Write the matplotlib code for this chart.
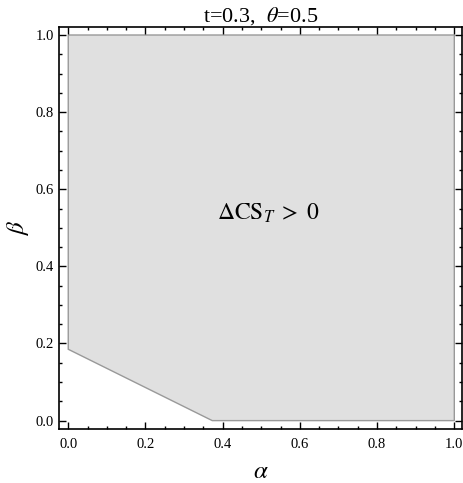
import numpy as np
import matplotlib
matplotlib.use('Agg')
import matplotlib.pyplot as plt
from matplotlib.ticker import MultipleLocator, FormatStrFormatter

plt.rcParams['font.family'] = ['Liberation Serif', 'DejaVu Serif']
plt.rcParams['mathtext.fontset'] = 'stix'

# region boundary where Delta CS_T > 0 (t=0.3, theta=0.5)
alpha_pts = [0.0, 0.373, 1.0, 1.0, 0.0]
beta_pts = [0.185, 0.0, 0.0, 1.0, 1.0]

fig = plt.figure(figsize=(4.63, 4.83), dpi=100)
ax = fig.add_axes([0.1274, 0.1124, 0.8705, 0.8311])

ax.fill(alpha_pts, beta_pts, facecolor='#e0e0e0', edgecolor='#999999', lw=1.0, zorder=1)

ax.set_xlim(-0.024, 1.02)
ax.set_ylim(-0.021, 1.02)
ax.xaxis.set_major_locator(MultipleLocator(0.2))
ax.yaxis.set_major_locator(MultipleLocator(0.2))
ax.xaxis.set_minor_locator(MultipleLocator(0.05))
ax.yaxis.set_minor_locator(MultipleLocator(0.05))
ax.tick_params(which='both', direction='in', top=True, right=True, labelsize=10.5, width=1.0)
ax.tick_params(which='major', length=5)
ax.tick_params(which='minor', length=2.5)
ax.tick_params(axis='x', which='major', pad=7)
ax.xaxis.set_major_formatter(FormatStrFormatter('%.1f'))
ax.yaxis.set_major_formatter(FormatStrFormatter('%.1f'))
for s in ax.spines.values():
    s.set_linewidth(1.2)

ax.text(0.518, 0.538, r'$\Delta\mathrm{CS}_T\; >\; 0$', fontsize=17, ha='center', va='center')
ax.set_title(r't=0.3,  $\theta$=0.5', fontsize=16, pad=2)
ax.set_xlabel(r'$\alpha$', fontsize=18, va='center', ha='center')
ax.set_ylabel(r'$\beta$', fontsize=18, va='center', ha='center')
ax.xaxis.set_label_coords(0.5, -0.108)
ax.yaxis.set_label_coords(-0.102, 0.5)

fig.savefig('out.png', dpi=100)
